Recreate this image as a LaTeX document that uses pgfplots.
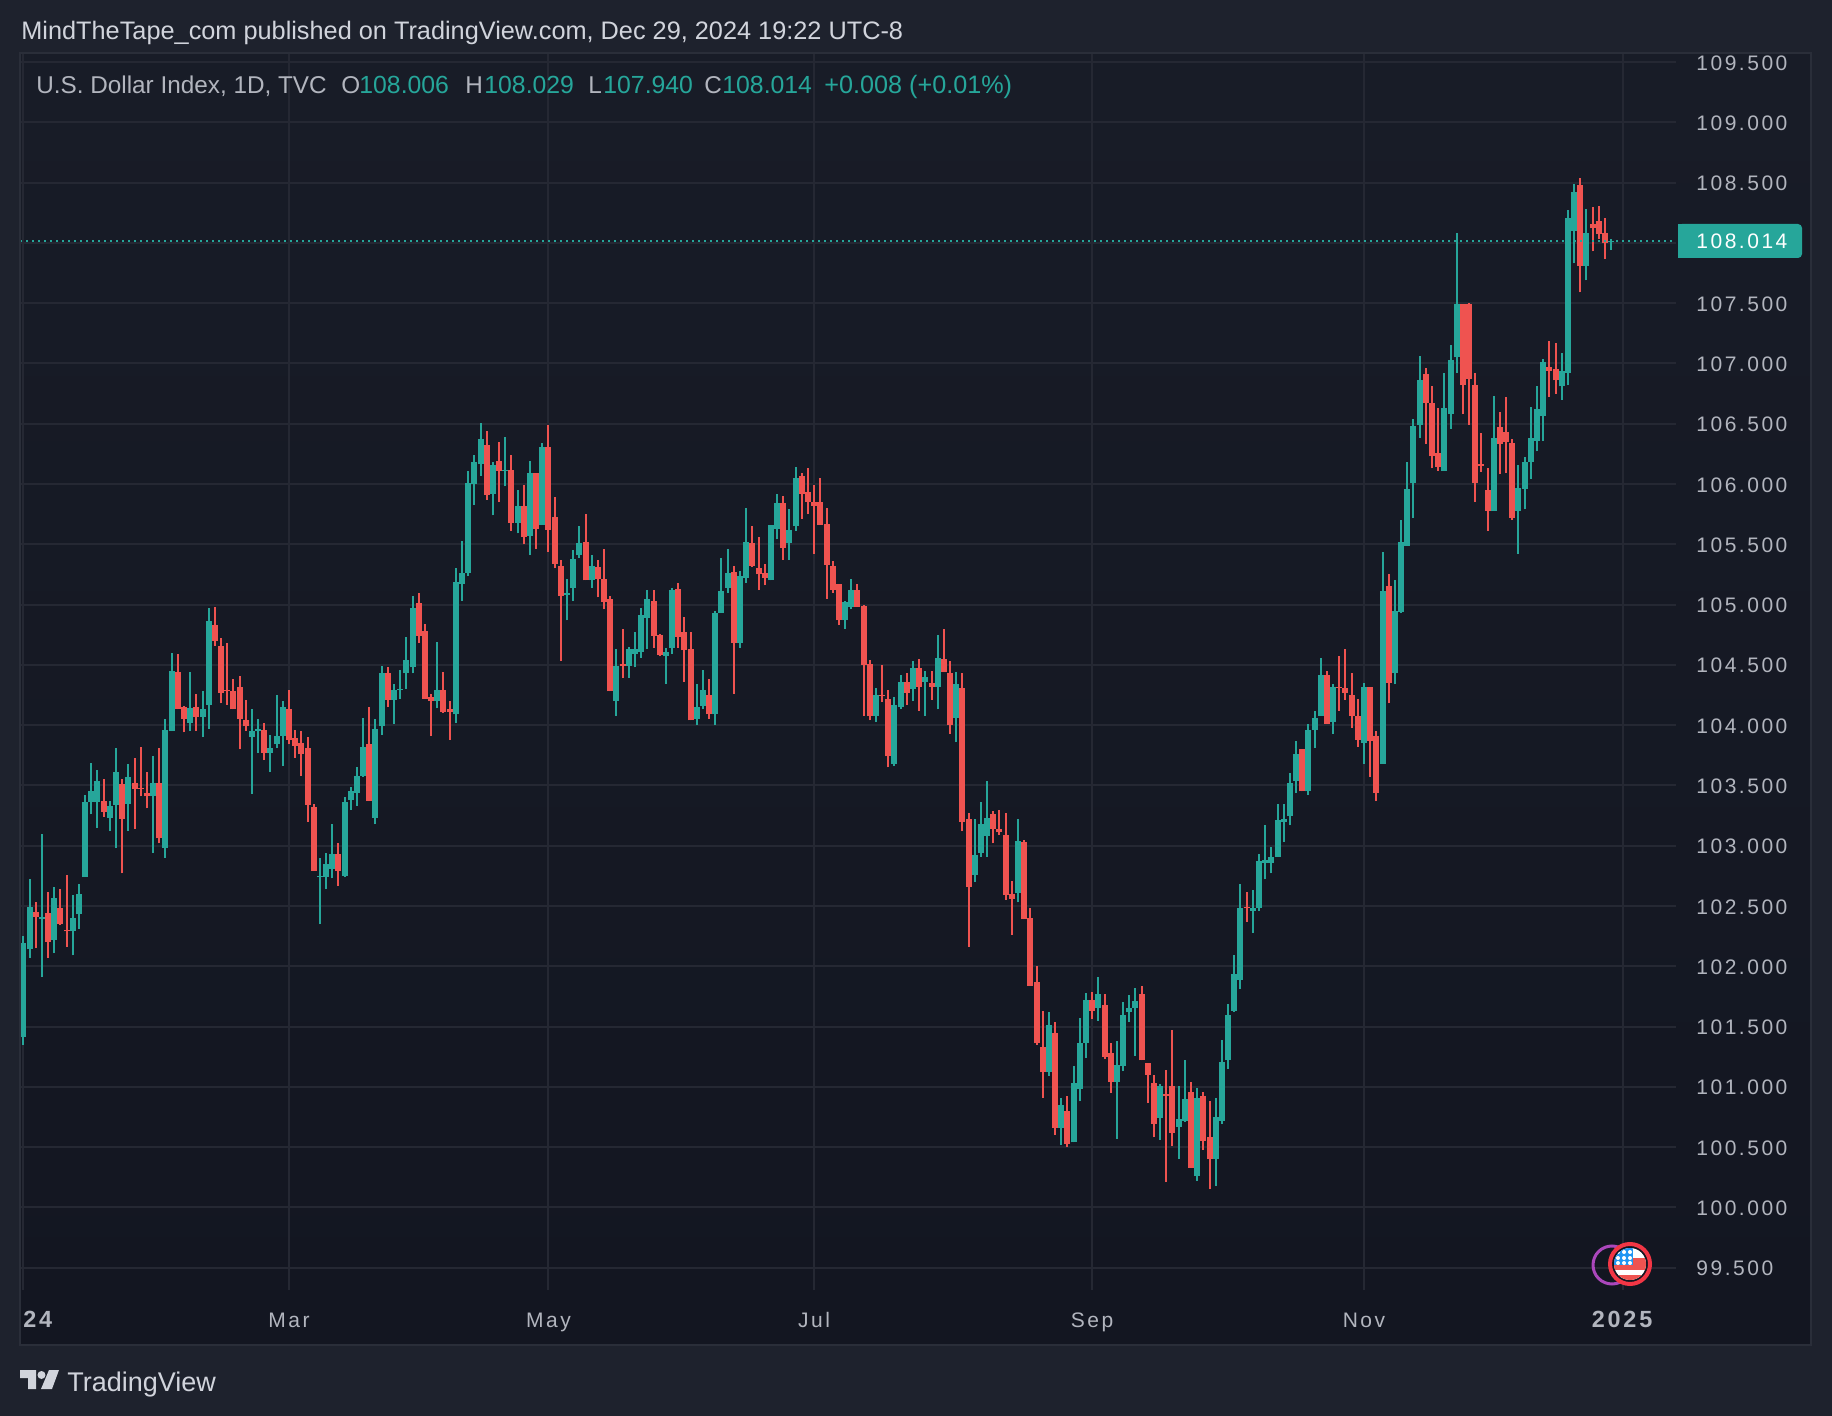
\documentclass[border=0pt]{standalone}
\usepackage{fontspec}
\usepackage{pgfplots}
\usepackage{pgfplotstable}
\pgfplotsset{compat=1.18}
\setmainfont{Liberation Sans}
\newfontfamily\axfont[LetterSpace=12]{Liberation Sans}
\definecolor{pagebg}{HTML}{1E222D}
\definecolor{panetop}{HTML}{181C27}
\definecolor{panebot}{HTML}{131621}
\definecolor{paneborder}{HTML}{2A2E39}
\definecolor{gridc}{HTML}{252833}
\definecolor{tvgreen}{HTML}{26A69A}
\definecolor{tvred}{HTML}{EF5350}
\definecolor{axtext}{HTML}{B2B5BE}
\definecolor{toptext}{HTML}{D1D4DC}
\definecolor{ringpurple}{HTML}{AB47BC}
\definecolor{ringred}{HTML}{F23645}
\definecolor{flagblue}{HTML}{2196F3}
% x open high low close
\pgfplotstableread{
x o h l c
0 101.41 102.25 101.35 102.19
1 102.14 102.72 102.07 102.49
3 102.39 103.10 101.91 102.41
5 102.22 102.66 102.11 102.57
8 102.29 102.59 102.09 102.40
9 102.43 102.68 102.31 102.60
10 102.74 103.42 102.74 103.36
11 103.36 103.69 103.26 103.45
12 103.36 103.63 103.15 103.54
14 103.23 103.37 103.12 103.33
15 103.34 103.81 102.98 103.61
17 103.35 103.68 103.12 103.57
21 103.41 103.74 102.94 103.52
23 102.98 104.05 102.90 103.96
24 103.95 104.60 103.95 104.45
27 104.02 104.44 103.95 104.14
29 104.07 104.28 103.90 104.13
30 104.17 104.97 103.97 104.86
37 103.90 104.13 103.43 103.95
38 103.95 104.05 103.77 103.97
40 103.77 103.92 103.61 103.81
41 103.84 104.25 103.81 103.91
42 103.91 104.20 103.66 104.15
48 102.74 102.90 102.35 102.75
49 102.74 102.94 102.64 102.85
50 102.81 103.18 102.73 102.93
52 102.75 103.40 102.74 103.36
53 103.38 103.49 103.30 103.45
54 103.44 103.65 103.33 103.58
55 103.58 104.06 103.57 103.82
57 103.23 104.05 103.18 103.97
58 103.99 104.49 103.92 104.43
60 104.21 104.34 104.01 104.29
61 104.29 104.46 104.22 104.30
62 104.43 104.73 104.30 104.54
63 104.48 105.07 104.43 104.97
67 104.20 104.69 104.14 104.29
70 104.09 105.30 104.02 105.19
71 105.17 105.53 105.03 105.26
72 105.26 106.11 105.24 106.01
73 106.00 106.24 105.83 106.18
74 106.17 106.51 106.07 106.37
76 105.92 106.18 105.74 106.16
78 106.11 106.39 105.98 106.12
80 105.68 105.95 105.59 105.82
82 105.57 106.19 105.41 106.09
84 105.66 106.34 105.66 106.31
88 105.08 105.21 104.87 105.10
89 105.14 105.45 105.03 105.38
90 105.41 105.65 105.39 105.51
92 105.20 105.41 105.14 105.32
96 104.20 104.63 104.08 104.49
98 104.49 104.65 104.39 104.63
99 104.59 104.77 104.48 104.63
100 104.61 104.97 104.56 104.91
101 104.89 105.12 104.63 105.05
104 104.57 104.64 104.34 104.61
105 104.64 105.14 104.59 105.12
109 104.05 104.34 104.00 104.15
110 104.16 104.46 104.13 104.29
112 104.09 104.95 104.00 104.93
113 104.93 105.39 104.93 105.11
114 105.14 105.46 105.10 105.26
116 104.68 105.28 104.64 105.24
117 105.22 105.80 105.18 105.52
121 105.20 105.66 105.20 105.66
122 105.63 105.92 105.54 105.84
124 105.51 105.79 105.37 105.62
125 105.65 106.14 105.61 106.05
133 104.87 105.03 104.80 105.02
134 104.98 105.21 104.96 105.12
138 104.08 104.31 104.03 104.25
141 103.68 104.23 103.66 104.17
142 104.15 104.42 104.13 104.36
144 104.30 104.53 104.20 104.47
146 104.36 104.45 104.08 104.40
148 104.32 104.75 104.13 104.56
151 104.06 104.44 103.86 104.34
154 102.76 103.22 102.70 102.92
155 102.94 103.36 102.91 103.18
156 103.08 103.54 102.91 103.23
161 102.61 103.22 102.53 103.04
166 101.12 101.62 101.09 101.51
168 100.66 100.91 100.52 100.85
170 100.54 101.17 100.54 101.03
171 100.98 101.57 100.88 101.36
172 101.36 101.78 101.24 101.72
174 101.65 101.91 101.55 101.77
177 101.04 101.38 100.57 101.18
178 101.17 101.70 101.13 101.60
179 101.62 101.76 101.54 101.65
180 101.65 101.82 101.26 101.71
184 100.74 101.02 100.56 101.01
187 100.67 101.01 100.40 100.73
188 100.72 101.22 100.71 100.90
190 100.26 100.99 100.22 100.91
193 100.40 100.91 100.18 100.75
194 100.72 101.39 100.69 101.21
195 101.22 101.69 101.15 101.60
196 101.63 102.09 101.62 101.94
197 101.89 102.68 101.81 102.48
199 102.46 102.63 102.28 102.48
200 102.48 102.93 102.46 102.87
201 102.86 103.17 102.72 102.88
202 102.86 102.99 102.77 102.91
203 102.91 103.35 102.91 103.21
204 103.20 103.35 103.03 103.22
205 103.25 103.60 103.17 103.52
206 103.54 103.87 103.44 103.76
208 103.45 104.01 103.42 103.96
209 103.96 104.12 103.81 104.06
210 104.08 104.56 104.08 104.42
212 104.03 104.34 103.93 104.32
217 103.85 104.35 103.68 104.32
220 103.68 105.44 103.68 105.11
222 104.43 105.20 104.34 104.95
223 104.94 105.70 104.93 105.52
224 105.49 106.18 105.49 105.96
225 106.01 106.54 105.72 106.48
226 106.49 107.06 106.38 106.86
230 106.11 106.92 106.11 106.63
231 106.58 107.15 106.46 107.03
232 107.05 108.08 106.92 107.49
238 105.78 106.73 105.78 106.38
242 105.78 106.16 105.42 105.97
243 105.96 106.22 105.79 106.18
244 106.18 106.64 106.04 106.38
245 106.36 106.81 106.27 106.62
246 106.56 107.04 106.36 107.01
249 106.81 107.09 106.70 106.94
250 106.92 108.27 106.82 108.21
251 108.10 108.49 107.83 108.42
253 107.81 108.28 107.69 108.08
257 108.006 108.029 107.940 108.014
}\greentab
\pgfplotstableread{
x o h l c
2 102.45 102.53 102.15 102.41
4 102.44 102.62 102.07 102.20
6 102.48 102.64 102.34 102.35
7 102.30 102.76 102.16 102.29
13 103.37 103.55 103.24 103.28
16 103.51 103.55 102.77 103.22
18 103.52 103.73 103.14 103.47
19 103.48 103.82 103.41 103.47
20 103.44 103.61 103.31 103.41
22 103.52 103.81 103.02 103.06
25 104.44 104.59 104.13 104.13
26 104.15 104.16 103.94 104.05
28 104.15 104.26 103.95 104.07
31 104.83 104.98 104.66 104.70
32 104.66 104.72 104.18 104.27
33 104.29 104.68 104.17 104.28
34 104.28 104.38 104.13 104.13
35 104.32 104.41 103.80 104.05
36 104.04 104.21 103.95 103.99
39 103.96 104.02 103.71 103.77
43 104.13 104.29 103.84 103.88
44 103.89 103.96 103.73 103.83
45 103.85 103.95 103.58 103.76
46 103.81 103.90 103.20 103.34
47 103.32 103.35 102.79 102.79
51 102.93 103.02 102.67 102.79
56 103.84 104.15 103.37 103.37
59 104.43 104.48 104.15 104.21
64 105.01 105.10 104.68 104.74
65 104.78 104.84 104.22 104.22
66 104.23 104.26 103.91 104.20
68 104.29 104.44 104.10 104.11
69 104.13 104.20 103.88 104.11
75 106.32 106.44 105.87 105.91
77 106.19 106.35 105.85 106.11
79 106.12 106.24 105.61 105.68
81 105.82 105.99 105.50 105.56
83 106.09 106.09 105.46 105.63
85 106.31 106.49 105.44 105.62
86 105.73 105.89 105.30 105.34
87 105.32 105.37 104.53 105.07
91 105.52 105.75 105.20 105.20
93 105.31 105.37 105.06 105.21
94 105.21 105.46 104.96 105.02
95 105.05 105.07 104.28 104.28
97 104.51 104.80 104.39 104.49
102 105.03 105.12 104.64 104.74
103 104.75 104.76 104.57 104.58
106 105.13 105.18 104.64 104.73
107 104.77 104.90 104.36 104.62
108 104.63 104.77 104.04 104.04
111 104.25 104.38 104.05 104.09
115 105.27 105.32 104.26 104.68
118 105.51 105.65 105.31 105.32
119 105.30 105.56 105.12 105.25
120 105.26 105.34 105.16 105.22
123 105.84 105.90 105.37 105.47
126 106.07 106.09 105.71 105.92
127 105.93 106.13 105.75 105.85
128 105.85 105.99 105.42 105.82
129 105.85 106.05 105.66 105.66
130 105.67 105.80 105.05 105.33
131 105.32 105.36 105.10 105.12
132 105.17 105.17 104.83 104.87
135 105.12 105.17 104.98 104.98
136 104.99 105.00 104.08 104.50
137 104.51 104.54 104.04 104.08
139 104.25 104.50 104.19 104.24
140 104.22 104.29 103.65 103.74
143 104.36 104.43 104.17 104.27
145 104.47 104.55 104.12 104.32
147 104.35 104.45 104.21 104.32
149 104.55 104.80 104.44 104.44
150 104.43 104.53 103.93 104.00
152 104.31 104.43 103.12 103.20
153 103.22 103.27 102.16 102.66
157 103.26 103.29 103.02 103.14
158 103.14 103.30 103.09 103.11
159 103.09 103.27 102.55 102.59
160 102.60 102.71 102.26 102.56
162 103.03 103.05 102.39 102.39
163 102.40 102.48 101.84 101.84
164 101.87 102.00 101.35 101.36
165 101.33 101.63 100.91 101.12
167 101.45 101.54 100.60 100.66
169 100.80 100.92 100.50 100.53
173 101.72 101.79 101.56 101.63
175 101.68 101.77 101.23 101.25
176 101.28 101.36 100.95 101.04
181 101.77 101.84 101.22 101.22
182 101.20 101.20 100.87 101.10
183 101.03 101.10 100.58 100.69
185 100.94 101.14 100.21 100.92
186 101.01 101.47 100.51 100.62
189 100.96 101.04 100.33 100.33
191 100.92 100.96 100.48 100.55
192 100.58 100.88 100.15 100.40
198 102.49 102.62 102.37 102.48
207 103.80 103.80 103.45 103.45
211 104.42 104.45 104.01 104.01
213 104.32 104.57 104.12 104.31
214 104.31 104.63 104.21 104.27
215 104.25 104.43 103.98 104.08
216 104.08 104.22 103.82 103.88
218 104.32 104.32 103.57 103.87
219 103.91 103.95 103.37 103.44
221 105.15 105.25 104.18 104.35
227 106.91 106.96 106.33 106.67
228 106.67 106.81 106.13 106.23
229 106.26 106.63 106.11 106.14
233 107.49 107.49 106.58 106.82
234 107.49 107.50 106.49 106.87
235 106.82 106.92 105.85 106.01
236 106.17 106.42 106.10 106.15
237 105.95 106.13 105.61 105.78
239 106.47 106.60 106.08 106.33
240 106.43 106.72 106.09 106.35
241 106.34 106.37 105.70 105.72
247 106.97 107.19 106.72 106.94
248 106.95 107.17 106.75 106.86
252 108.48 108.54 107.59 107.81
254 108.16 108.30 107.93 108.12
255 108.18 108.31 108.03 108.07
256 108.08 108.21 107.87 108.00
}\redtab
\begin{document}
\begin{tikzpicture}[x=0.5pt,y=-0.5pt]
\fill[pagebg] (0,0) rectangle (1832,1416);
\useasboundingbox (0,0) rectangle (1832,1416);
\shade[top color=panetop,bottom color=panebot] (20,53) rectangle (1811,1345);
\begin{axis}[
  at={(10pt,-645pt)},anchor=south west,
  scale only axis,width=828pt,height=618.5pt,
  xmin=-0.54,xmax=267.5,ymin=99.315,ymax=109.575,
  axis line style={draw=none},
  major tick length=0pt,
  grid=major,
  major grid style={gridc,line width=1pt},
  xtick={0,43,85,128,173,217,259},
  xticklabels={{\fontsize{11.7pt}{12pt}\selectfont\textbf{2024}},Mar,May,Jul,Sep,Nov,{\fontsize{11.7pt}{12pt}\selectfont\textbf{2025}}},
  xticklabel style={font=\axfont\fontsize{10.5pt}{12pt}\selectfont,text=axtext,anchor=base,yshift=-18.5pt},
  ytick={99.5,100,100.5,101,101.5,102,102.5,103,103.5,104,104.5,105,105.5,106,106.5,107,107.5,108,108.5,109,109.5},
  yticklabels={99.500,100.000,100.500,101.000,101.500,102.000,102.500,103.000,103.500,104.000,104.500,105.000,105.500,106.000,106.500,107.000,107.500,{},108.500,109.000,109.500},
  yticklabel pos=right,
  yticklabel style={font=\axfont\fontsize{10.5pt}{12pt}\selectfont,text=axtext,anchor=west,xshift=10pt,yshift=-0.4pt,inner sep=0pt},
  clip=true,
]
\addplot[draw=none,no markers,forget plot,error bars/.cd,y dir=plus,y explicit,error mark=none,error bar style={draw=tvgreen,line width=1pt}]
  table[x=x,y=l,y error expr=\thisrow{h}-\thisrow{l}]{\greentab};
\addplot[draw=none,no markers,forget plot,error bars/.cd,y dir=plus,y explicit,error mark=none,error bar style={draw=tvred,line width=1pt}]
  table[x=x,y=l,y error expr=\thisrow{h}-\thisrow{l}]{\redtab};
\addplot[draw=none,no markers,forget plot,error bars/.cd,y dir=plus,y explicit,error mark=none,error bar style={draw=tvgreen,line width=3pt}]
  table[x=x,y=o,y error expr=\thisrow{c}-\thisrow{o}]{\greentab};
\addplot[draw=none,no markers,forget plot,error bars/.cd,y dir=plus,y explicit,error mark=none,error bar style={draw=tvred,line width=3pt}]
  table[x=x,y=c,y error expr=\thisrow{o}-\thisrow{c}]{\redtab};
\addplot[tvgreen,line width=1pt,dash pattern=on 1pt off 2pt,forget plot] coordinates {(-0.54,108.014) (267.5,108.014)};
\end{axis}
% cover what leaves the pane on the left, then the frame
\fill[pagebg] (0,1291) rectangle (20,1345);
\draw[paneborder,line width=1pt] (20,53) rectangle (1811,1345);
% header
\node[anchor=base west,inner sep=0pt,text=toptext,font=\fontsize{12.65pt}{15pt}\selectfont] at (21,40) {MindTheTape\_com published on TradingView.com, Dec 29, 2024 19:22 UTC-8};
% legend line
\def\lg#1#2#3#4{\node[anchor=base west,inner sep=0pt,text=#2,font=\fontsize{#3pt}{15pt}\selectfont] at (#1,94) {#4};}
\lg{36}{axtext}{12.15}{U.S. Dollar Index, 1D, TVC}
\lg{341}{axtext}{12.15}{O}\lg{359}{tvgreen}{12.4}{108.006}
\lg{465}{axtext}{12.15}{H}\lg{484}{tvgreen}{12.4}{108.029}
\lg{588}{axtext}{12.15}{L}\lg{603}{tvgreen}{12.4}{107.940}
\lg{704}{axtext}{12.15}{C}\lg{722}{tvgreen}{12.4}{108.014}
\lg{824}{tvgreen}{12.6}{+0.008 (+0.01\%)}
% last price badge
\fill[tvgreen,rounded corners=2pt] (1678,224) rectangle (1802,258);
\fill[tvgreen] (1678,224) rectangle (1690,258);
\node[anchor=west,inner sep=0pt,text=white,font=\axfont\fontsize{10.5pt}{12pt}\selectfont] at (1696,241) {108.014};
% event icons
\draw[ringpurple,line width=1.5pt] (1612,1265) circle (9.5pt);
\fill[panebot] (1630,1264) circle (10.5pt);
\begin{scope}
\clip (1630,1264) circle (8pt);
\fill[white] (1610,1244) rectangle (1650,1284);
\fill[tvred] (1610,1258) rectangle (1650,1270);
\fill[tvred] (1610,1275) rectangle (1650,1284);
\fill[flagblue] (1610,1244) rectangle (1633,1265);
\foreach \a in {1618,1624,1630} \foreach \b in {1252,1258,1263} \fill[white] (\a,\b) circle (1pt);
\end{scope}
\draw[ringred,line width=2pt] (1630,1264) circle (10pt);
% logo
\fill[toptext] (20,1370) -- (36,1370) -- (36,1389) -- (28,1389) -- (28,1378) -- (20,1378) -- cycle;
\fill[toptext] (41.5,1375) circle (2pt);
\fill[toptext] (49,1370) -- (59,1370) -- (52,1389) -- (41,1389) -- cycle;
\node[anchor=base west,inner sep=0pt,text=toptext,font=\fontsize{13.5pt}{15pt}\selectfont] at (67,1391) {TradingView};
\end{tikzpicture}
\end{document}
